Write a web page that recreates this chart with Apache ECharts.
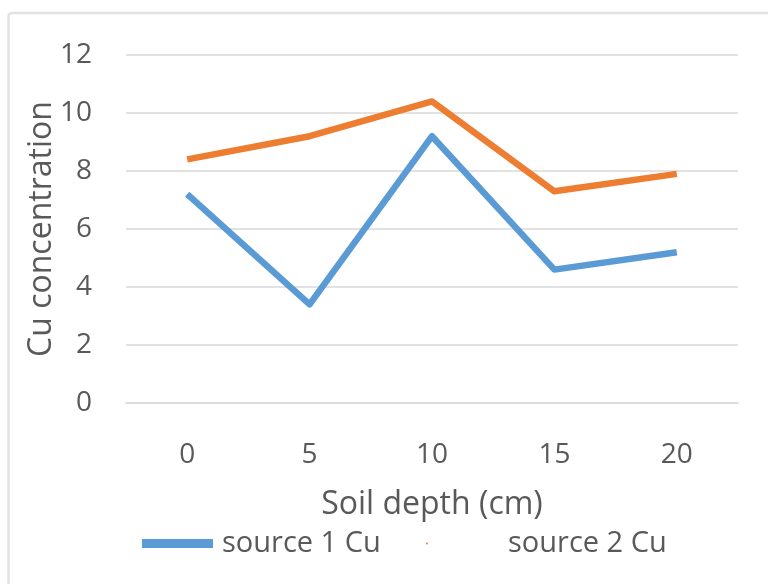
<!DOCTYPE html>
<html>
<head>
<meta charset="utf-8">
<script src="https://cdn.jsdelivr.net/npm/echarts@6/dist/echarts.min.js"></script>
<style>
  html, body { margin: 0; padding: 0; background: #fff; }
  #main { width: 768px; height: 584px; }
</style>
</head>
<body>
<div id="main"></div>
<script>
// soil depth categories (cm)
const depths = ['0', '5', '10', '15', '20'];
const source1Cu = [7.2, 3.4, 9.2, 4.6, 5.2];
const source2Cu = [8.4, 9.2, 10.4, 7.3, 7.9];
const seriesNames = ['source 1 Cu', 'source 2 Cu'];

const textColor = '#595959';
const fontFamily = '"Open Sans", sans-serif';

var chart = echarts.init(document.getElementById('main'));

var option = {
    animation: false,
    textStyle: { fontFamily: fontFamily, color: textColor },
    graphic: [{
        type: 'rect',
        shape: { x: 8.5, y: 13, width: 800, height: 600, r: 3 },
        style: { fill: 'none', stroke: '#e2e2e2', lineWidth: 2.5 },
        silent: true
    }],
    grid: { left: 126, right: 30, top: 55, bottom: 181 },
    legend: [
        {
            data: [seriesNames[0]],
            left: 137,
            top: 524,
            icon: 'rect',
            itemWidth: 71,
            itemHeight: 9,
            textStyle: { fontSize: 29, color: textColor, fontFamily: fontFamily, padding: [0, 0, 0, 4] }
        },
        {
            data: [seriesNames[1]],
            left: 421,
            top: 524,
            icon: 'circle',
            itemWidth: 2,
            itemHeight: 2,
            textStyle: { fontSize: 29, color: textColor, fontFamily: fontFamily, padding: [0, 0, 0, 75] }
        }
    ],
    xAxis: {
        type: 'category',
        data: depths,
        boundaryGap: true,
        name: 'Soil depth (cm)',
        nameLocation: 'middle',
        nameGap: 86,
        nameMoveOverlap: false,
        nameTextStyle: { fontSize: 32, color: textColor, fontFamily: fontFamily },
        axisLine: { lineStyle: { color: '#d9d9d9', width: 1.5 } },
        axisTick: { show: false },
        axisLabel: { fontSize: 28, color: textColor, margin: 38 }
    },
    yAxis: {
        type: 'value',
        min: 0,
        max: 12,
        interval: 2,
        name: 'Cu concentration',
        nameLocation: 'middle',
        nameGap: 68,
        nameMoveOverlap: false,
        nameTextStyle: { fontSize: 32, color: textColor, fontFamily: fontFamily },
        axisLine: { show: false },
        axisTick: { show: false },
        axisLabel: { fontSize: 28, color: textColor, margin: 34 },
        splitLine: { lineStyle: { color: '#d9d9d9', width: 1.5 } }
    },
    series: [
        {
            name: seriesNames[0],
            type: 'line',
            data: source1Cu,
            symbol: 'none',
            color: '#5B9BD5',
            lineStyle: { width: 6.5, color: '#5B9BD5', join: 'round' }
        },
        {
            name: seriesNames[1],
            type: 'line',
            data: source2Cu,
            symbol: 'none',
            color: '#ED7D31',
            lineStyle: { width: 6.5, color: '#ED7D31', join: 'round' }
        }
    ]
};

chart.setOption(option);
</script>
</body>
</html>
